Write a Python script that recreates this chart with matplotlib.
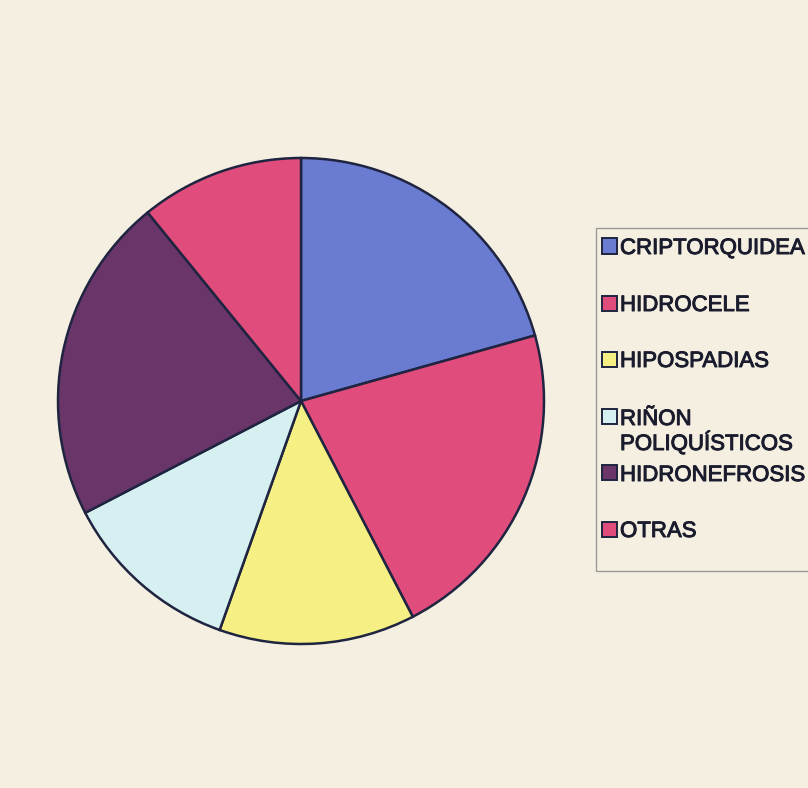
import matplotlib
matplotlib.use("Agg")
import matplotlib.pyplot as plt
from matplotlib.patches import Rectangle
import matplotlib.patheffects as pe

categories = ["CRIPTORQUIDEA", "HIDROCELE", "HIPOSPADIAS",
              "RIÑON\nPOLIQUÍSTICOS", "HIDRONEFROSIS", "OTRAS"]
values = [19, 20, 12, 11, 20, 10]
colors = ["#6a7bd2", "#e04c7c", "#f6f084", "#d6f0f2", "#6a3669", "#e04c7c"]

bg = "#f4efe0"
edge = "#1f2440"
txt = "#1a1c2e"

fig = plt.figure(figsize=(8.08, 7.88), dpi=100, facecolor=bg)

W, H = 808, 788
cx, cy, r = 301, 401, 243
ax = fig.add_axes([(cx - r) / W, (H - cy - r) / H, 2 * r / W, 2 * r / H])
ax.set_facecolor(bg)
ax.pie(values, colors=colors, startangle=90, counterclock=False, radius=1.0,
       wedgeprops=dict(edgecolor=edge, linewidth=1.8))
ax.set_xlim(-1.0, 1.0)
ax.set_ylim(-1.0, 1.0)
ax.set_aspect("equal")
ax.axis("off")

# legend frame
lx0, ly0, lx1, ly1 = 596, 228, 812, 571
fig.patches.append(Rectangle((lx0 / W, 1 - ly1 / H), (lx1 - lx0) / W, (ly1 - ly0) / H,
                             transform=fig.transFigure, facecolor="none",
                             edgecolor="#9a9a98", linewidth=1.0))

# baseline of each entry's first line (pixels from top) and line step
entry_base = [254, 311, 367, 425, 481, 537]
line_step = 25
thick = [pe.withStroke(linewidth=0.7, foreground=txt)]
for lab, col, yb in zip(categories, colors, entry_base):
    fig.patches.append(Rectangle((602 / W, 1 - (yb - 0.5) / H), 15 / W, 15 / H,
                                 transform=fig.transFigure, facecolor=col,
                                 edgecolor=edge, linewidth=1.4))
    for i, line in enumerate(lab.split("\n")):
        fig.text(620 / W, 1 - (yb + i * line_step) / H, line, ha="left",
                 va="baseline", fontsize=16, family="Liberation Sans",
                 color=txt, path_effects=thick)

fig.savefig("out.png", dpi=100, facecolor=bg)
